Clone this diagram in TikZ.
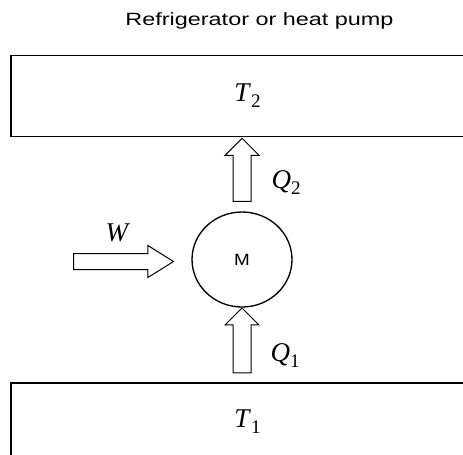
\documentclass[tikz,border=0pt]{standalone}
\usepackage{fontspec}
\setmainfont{Liberation Serif}
\newfontfamily\headfont[FakeStretch=1.32]{Liberation Sans}
\newfontfamily\motorfont[FakeStretch=1.16]{Liberation Sans}
\usetikzlibrary{calc,shapes.arrows,shapes.geometric}
\newcommand{\symsub}[2]{\textit{#1}\raisebox{-4.5pt}{\fontsize{14.4pt}{14.4pt}\selectfont #2}}

\tikzset{every picture/.style={line width=0.75pt},
  reservoir/.style={draw, rectangle, line width=1.1pt, inner sep=0pt, minimum width=354.75pt},
  heatarrow/.style={draw, single arrow, inner xsep=0pt, inner ysep=6.375pt, minimum width=24.75pt, single arrow head extend=6pt, line width=0.75pt},
  lbl/.style={inner sep=0pt, font=\fontsize{20.3pt}{24pt}\selectfont}}

\begin{document}
\begin{tikzpicture}[x=0.75pt,y=0.75pt,yscale=-1,xscale=1]
\path[use as bounding box] (0,0) rectangle (463,454);
\clip (0,0) rectangle (463,454);

% Text Node
\node[anchor=base, inner sep=0pt, font=\headfont\fontsize{13.3pt}{16pt}\selectfont] (title) at (259.5,25) {Refrigerator or heat pump};

%Shape: Rectangle [hot reservoir]
\node[reservoir, lbl, minimum height=60.75pt] (hot) at (247.5,96) {\symsub{T}{2}};
%Shape: Rectangle [cold reservoir]
\node[reservoir, lbl, minimum height=58.5pt] (cold) at (247.5,422) {\symsub{T}{1}};

%Shape: Ellipse [machine]
\node[draw, ellipse, inner sep=0pt, minimum width=75pt, minimum height=71.25pt, line width=1pt, font=\motorfont\fontsize{12.2pt}{14pt}\selectfont] (pump) at (242,259.5) {M};

%Block Arrows
\node[heatarrow, rotate=90, minimum height=47.25pt] (q2arrow) at ($(pump.north)!0.5!(pump.north |- hot.south)$) {};
\node[heatarrow, rotate=90, minimum height=48.75pt] (q1arrow) at ($(pump.south)!0.5!(pump.south |- cold.north)$) {};
\coordinate (work) at (73,261.5);
\node[heatarrow, single arrow tip angle=64, inner ysep=5.625pt, minimum width=23.25pt, minimum height=75pt, anchor=tail] (warrow) at (work) {};

% Text Node
\node[lbl, anchor=base west] (q2label) at (271,188) {\symsub{Q}{2}};
% Text Node
\node[lbl, anchor=base west] (q1label) at (270,361) {\symsub{Q}{1}};
% Text Node
\node[lbl, anchor=base west] (wlabel) at (105,241.5) {\textit{W}};

\end{tikzpicture}
\end{document}
